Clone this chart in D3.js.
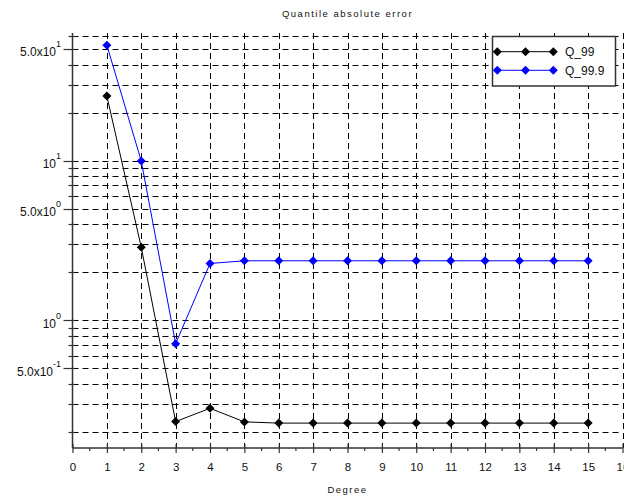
<!DOCTYPE html>
<html>
<head>
<meta charset="utf-8">
<script src="https://cdn.jsdelivr.net/npm/d3@7"></script>
<style>
  html, body { margin: 0; padding: 0; background: #fff; }
  svg { display: block; font-family: "Liberation Sans", Arial, sans-serif; }
</style>
</head>
<body>
<svg id="chart" width="624" height="497"></svg>
<script>
// Polynomial degree on the x axis
const degrees = [1, 2, 3, 4, 5, 6, 7, 8, 9, 10, 11, 12, 13, 14, 15];
// Absolute error of the 99th percentile estimate
const q99 = [25.4, 2.87, 0.232, 0.281, 0.231, 0.227, 0.227, 0.227, 0.227, 0.227, 0.227, 0.227, 0.227, 0.227, 0.227];
// Absolute error of the 99.9th percentile estimate
const q999 = [52.9, 9.95, 0.713, 2.27, 2.36, 2.36, 2.36, 2.36, 2.36, 2.36, 2.36, 2.36, 2.36, 2.36, 2.36];

const seriesNames = ["Q_99", "Q_99.9"];
const seriesColors = ["#000000", "#0000ff"];

const xTicks = [0, 1, 2, 3, 4, 5, 6, 7, 8, 9, 10, 11, 12, 13, 14, 15, 16];
const yMajorTicks = [0.5, 1, 5, 10, 50];
const yLabelBase = ["5.0x10", "10", "5.0x10", "10", "5.0x10"];
const yLabelExp = ["-1", "0", "0", "1", "1"];
const yGridValues = [0.2, 0.3, 0.4, 0.5, 0.6, 0.7, 0.8, 0.9,
                     1, 2, 3, 4, 5, 6, 7, 8, 9,
                     10, 20, 30, 40, 50, 60];

const svg = d3.select("#chart");
const plotLeft = 72.5, plotRight = 622.5, plotTop = 33, plotBottom = 448;

const x = d3.scaleLinear().domain([0, 16]).range([plotLeft, plotRight]);
const y = d3.scaleLog().domain([Math.pow(10, -0.8), Math.pow(10, 1.8)]).range([plotBottom, plotTop]);

// Title
svg.append("text")
  .attr("x", (plotLeft + plotRight) / 2).attr("y", 17)
  .attr("text-anchor", "middle")
  .style("font-size", "9.5px").style("letter-spacing", "1.5px")
  .attr("fill", "#111")
  .text("Quantile absolute error");

// Grid
const grid = svg.append("g").attr("stroke", "#000").attr("stroke-width", 1)
  .attr("stroke-dasharray", "6,4").attr("fill", "none");
grid.selectAll("line.h").data(yGridValues).join("line").attr("class", "h")
  .attr("x1", plotLeft).attr("x2", plotRight)
  .attr("y1", d => Math.round(y(d)) + 0.5).attr("y2", d => Math.round(y(d)) + 0.5);
grid.selectAll("line.v").data(xTicks.filter(d => d > 0)).join("line").attr("class", "v")
  .attr("x1", d => Math.round(x(d)) + 0.5).attr("x2", d => Math.round(x(d)) + 0.5)
  .attr("y1", plotTop).attr("y2", plotBottom);

// Series lines and diamond markers
const series = [q99, q999];
const line = d3.line().x((d, i) => x(degrees[i])).y(d => y(d));
const diamond = (cx, cy, r) => `M${cx},${cy - r}L${cx + r},${cy}L${cx},${cy + r}L${cx - r},${cy}Z`;

series.forEach((vals, s) => {
  svg.append("path").datum(vals)
    .attr("d", line).attr("fill", "none")
    .attr("stroke", seriesColors[s]).attr("stroke-width", 1);
  svg.append("g").selectAll("path").data(vals).join("path")
    .attr("d", (d, i) => diamond(x(degrees[i]), y(d), 4.5))
    .attr("fill", seriesColors[s]);
});

// X axis
const xAxis = svg.append("g")
  .attr("transform", `translate(0,${plotBottom})`)
  .call(d3.axisBottom(x).tickValues(xTicks).tickSize(5).tickPadding(10).tickFormat(d3.format("d")));
xAxis.select(".domain").attr("stroke", "#333").attr("stroke-width", 1.5).attr("d", `M${plotLeft},0H${plotRight}`);
xAxis.selectAll(".tick line").attr("y1", -4).attr("y2", 5).attr("stroke", "#333").attr("stroke-width", 1.2);
xAxis.selectAll(".tick text").style("font-size", "11.5px").style("font-family", "Liberation Sans, Arial, sans-serif").attr("fill", "#111");
// half-unit minor ticks
const xMinor = xTicks.slice(0, -1).map(d => d + 0.5);
svg.append("g").selectAll("line").data(xMinor).join("line")
  .attr("x1", d => x(d)).attr("x2", d => x(d))
  .attr("y1", plotBottom).attr("y2", plotBottom + 3)
  .attr("stroke", "#333").attr("stroke-width", 1.2);

// Y axis
svg.append("line")
  .attr("x1", plotLeft).attr("x2", plotLeft).attr("y1", plotTop).attr("y2", plotBottom)
  .attr("stroke", "#333").attr("stroke-width", 1.5);
svg.append("g").selectAll("line").data(yGridValues).join("line")
  .attr("x1", d => yMajorTicks.includes(d) ? plotLeft - 9 : plotLeft - 4)
  .attr("x2", plotLeft + 3)
  .attr("y1", d => Math.round(y(d)) + 0.5).attr("y2", d => Math.round(y(d)) + 0.5)
  .attr("stroke", "#333").attr("stroke-width", 1.2);

const yLabels = svg.append("g").selectAll("text").data(yMajorTicks).join("text")
  .attr("x", 61).attr("y", d => y(d) + 7.3)
  .attr("text-anchor", "end").attr("fill", "#111")
  .style("font-size", "12px");
yLabels.append("tspan").text((d, i) => yLabelBase[i]);
yLabels.append("tspan").attr("dy", -9).style("font-size", "9px").text((d, i) => yLabelExp[i]);

// X axis title
svg.append("text")
  .attr("x", (plotLeft + plotRight) / 2).attr("y", 493)
  .attr("text-anchor", "middle")
  .style("font-size", "9.5px").style("letter-spacing", "1.5px")
  .attr("fill", "#111")
  .text("Degree");

// Legend
const lg = svg.append("g");
lg.append("rect").attr("x", 492.5).attr("y", 36.5).attr("width", 123).attr("height", 49.5)
  .attr("fill", "#fff").attr("stroke", "#333").attr("stroke-width", 1.5);
const legendRows = [51.7, 70.3];
const legendMarks = [497.3, 525.5, 553.3];
seriesNames.forEach((name, s) => {
  const ly = legendRows[s];
  lg.append("line").attr("x1", legendMarks[0]).attr("x2", legendMarks[2])
    .attr("y1", ly).attr("y2", ly).attr("stroke", seriesColors[s]).attr("stroke-width", 1);
  legendMarks.forEach(mx => lg.append("path").attr("d", diamond(mx, ly, 4.5)).attr("fill", seriesColors[s]));
  lg.append("text").attr("x", 565).attr("y", ly + 4.3).style("font-size", "12px")
    .attr("fill", "#111").text(name);
});
</script>
</body>
</html>
